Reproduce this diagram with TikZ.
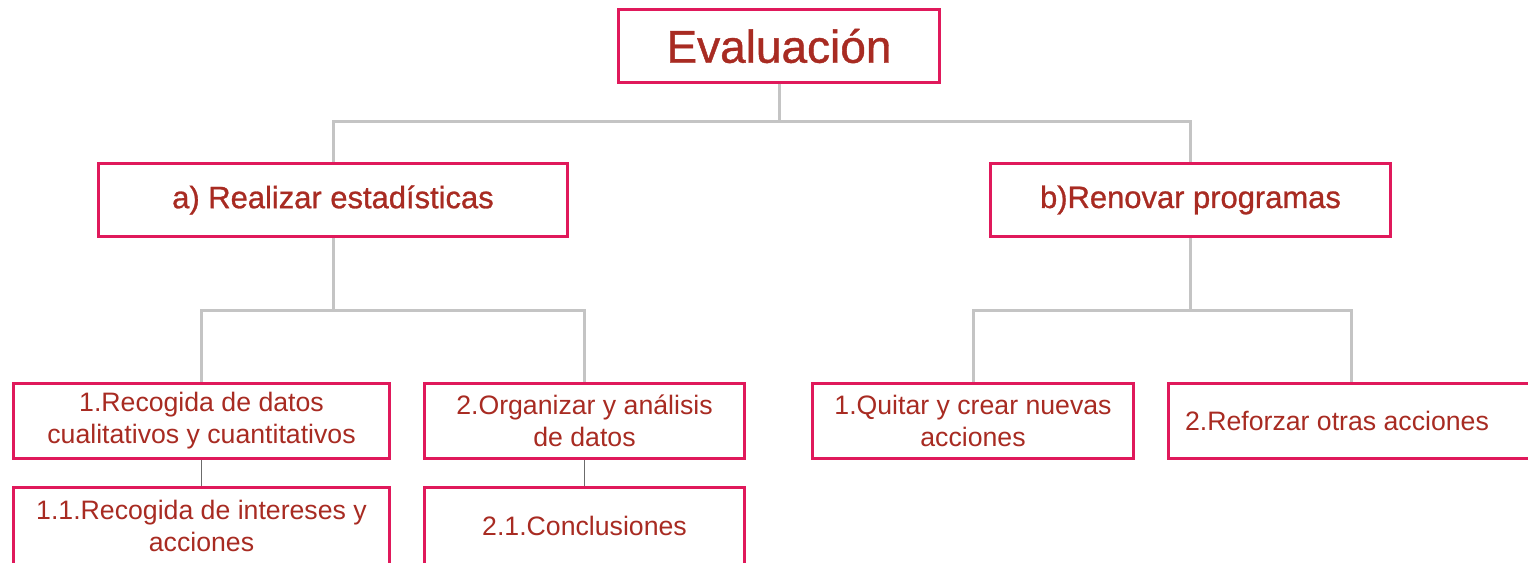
\documentclass[tikz,border=0pt]{standalone}
\usepackage{fontspec}
\setmainfont{Liberation Sans}
\newfontfamily\medfont{Liberation Sans}[FakeBold=0.9]
\definecolor{boxline}{HTML}{E0195B}
\definecolor{boxtext}{HTML}{A82B22}
\definecolor{treeline}{HTML}{C4C4C4}
\definecolor{subline}{HTML}{6B6B6B}
\begin{document}
\begin{tikzpicture}[x=0.75pt,y=-0.75pt]
  \tikzset{box/.style = {shape=rectangle,draw=boxline,line width=2.25pt,fill=white,text=boxtext,inner sep=0pt,align=center}}
  \tikzset{top/.style = {box,minimum width=240.75pt,minimum height=54.75pt,font=\medfont\fontsize{34.5}{40}\selectfont}}
  \tikzset{mid/.style = {box,minimum height=54.75pt,font=\medfont\fontsize{23.2}{28}\selectfont}}
  \tikzset{leaf/.style = {box,minimum height=56.25pt,font=\fontsize{20}{24}\selectfont}}
  \tikzset{deep/.style = {leaf,anchor=north,minimum height=57.75pt}}
  \tikzset{link/.style = {draw=treeline,line width=2.25pt}}
  \tikzset{sublink/.style = {draw=subline,line width=1.1pt}}
  \useasboundingbox (0,0) rectangle (1528,563);
  \clip (0,0) rectangle (1528,563);

	\node[top] (eval) at (779,46) {Evaluación};
	\node[mid,minimum width=351.75pt] (stats) at (333,200) {a) Realizar estadísticas};
	\node[mid,minimum width=300pt] (renew) at (1190.5,200) {b)Renovar programas};

	\node[leaf,minimum width=282pt] (collect) at (201.5,421) {1.Recogida de datos\\cualitativos y cuantitativos};
	\node[leaf,minimum width=240pt] (organize) at (584.5,421) {2.Organizar y análisis\\de datos};
	\node[leaf,minimum width=240.75pt] (remove) at (973,421) {1.Quitar y crear nuevas\\acciones};
	\node[leaf,minimum width=273.75pt] (reinforce) at (1351,421) {\hspace*{-21pt}2.Reforzar otras acciones};

	\node[deep,minimum width=282pt] (interests) at (201.5,486) {1.1.Recogida de intereses y\\acciones};
	\node[deep,minimum width=240pt] (conclude) at (584.5,486) {2.1.Conclusiones};

	\path[link] (eval.south) -- ++(0,38) -| (stats.north);
	\path[link] (eval.south) -- ++(0,38) -| (renew.north);

	\path[link] (stats.south) -- ++(0,72) -| (collect.north);
	\path[link] (stats.south) -- ++(0,72) -| (organize.north);

	\path[link] (renew.south) -- ++(0,72) -| (remove.north);
	\path[link] (renew.south) -- ++(0,72) -| (reinforce.north);

	\path[sublink] (collect.south) -- (interests.north);
	\path[sublink] (organize.south) -- (conclude.north);
\end{tikzpicture}
\end{document}
